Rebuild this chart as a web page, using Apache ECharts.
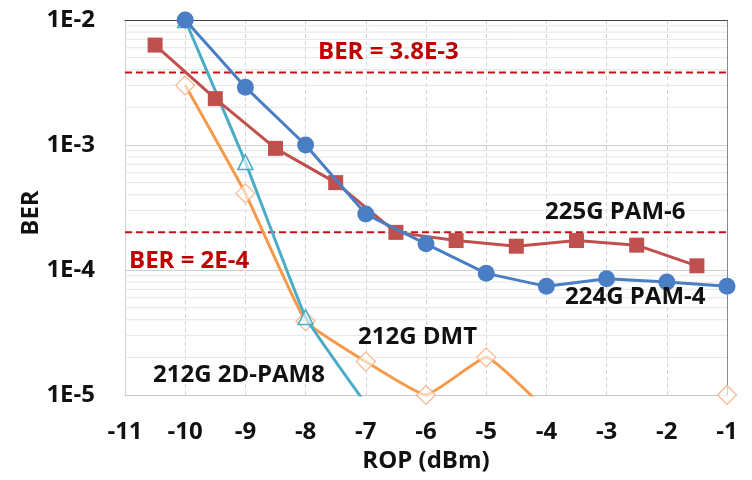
<!DOCTYPE html>
<html>
<head>
<meta charset="utf-8">
<script src="https://cdn.jsdelivr.net/npm/echarts@6/dist/echarts.min.js"></script>
<style>
html,body{margin:0;padding:0;background:#fff;}
#c{width:752px;height:480px;}
</style>
</head>
<body>
<div id="c"></div>
<script>
// ---- data ----
const xTicks = [-11,-10,-9,-8,-7,-6,-5,-4,-3,-2,-1];
const yTickLabels = ['1E-5','1E-4','1E-3','1E-2'];

const xPam4 = [-10,-9,-8,-7,-6,-5,-4,-3,-2,-1];
const berPam4 = [1.0e-2,2.9e-3,1.0e-3,2.8e-4,1.62e-4,9.4e-5,7.4e-5,8.5e-5,8.0e-5,7.4e-5];

const xPam6 = [-10.5,-9.5,-8.5,-7.5,-6.5,-5.5,-4.5,-3.5,-2.5,-1.5];
const berPam6 = [6.3e-3,2.35e-3,9.4e-4,5.0e-4,2.0e-4,1.72e-4,1.55e-4,1.72e-4,1.58e-4,1.08e-4];

const x2dPam8 = [-10,-9,-8,-7];
const ber2dPam8 = [1.0e-2,7.3e-4,4.2e-5,8.5e-6];

const xDmt = [-10,-9,-8,-7,-6,-5,-4,-3,-2,-1];
const berDmt = [3.0e-3,4.1e-4,3.9e-5,1.85e-5,1.0e-5,2.0e-5,7.5e-6,null,null,1.0e-5];

const thresholds = [3.8e-3, 2e-4];
const minorGrid = [];
[1e-5,1e-4,1e-3].forEach(d => { for (let k = 2; k <= 9; k++) minorGrid.push(d * k); });

// ---- chart ----
const FONT = '"Open Sans"';
const FS = 24;
const xMin = xTicks[0], xMax = xTicks[xTicks.length - 1];
const pairs = (xs, ys) => xs.map((x, i) => [x, ys[i]]);
const hLine = v => [[xMin, v], [xMax, v]];
const chart = echarts.init(document.getElementById('c'), null, {renderer: 'canvas'});

const labelStyle = {fontFamily: 'Open Sans', fontWeight: 'bold', fontSize: FS, color: '#111'};

const gridSeries = minorGrid.map(v => ({
  type: 'line', data: hLine(v), silent: true, symbol: 'none', z: 1,
  lineStyle: {color: '#e6e6e6', width: 1}
}));
const thresholdSeries = thresholds.map(v => ({
  type: 'line', data: hLine(v), silent: true, symbol: 'none', z: 3,
  lineStyle: {color: '#c8101a', width: 2, type: [7, 4]}
}));

chart.setOption({
  animation: false,
  backgroundColor: '#fff',
  grid: {left: 125, right: 25, top: 20, bottom: 85},
  xAxis: [{
    type: 'value', min: xMin, max: xMax, interval: 1,
    axisLine: {show: true, onZero: false, lineStyle: {color: '#c8c8c8', width: 1}},
    axisTick: {show: false},
    axisLabel: Object.assign({margin: 25, formatter: v => String(v)}, labelStyle),
    splitLine: {show: true, lineStyle: {color: '#d4d4d4', type: [4, 3], width: 1}},
    name: 'ROP (dBm)', nameLocation: 'middle', nameGap: 52,
    nameTextStyle: labelStyle
  }, {
    type: 'value', min: xMin, max: xMax, position: 'top',
    axisLine: {show: true, onZero: false, lineStyle: {color: '#444', width: 1}},
    axisTick: {show: false}, axisLabel: {show: false}, splitLine: {show: false}
  }],
  yAxis: [{
    type: 'log', logBase: 10, min: 1e-5, max: 1e-2,
    axisLine: {show: true, lineStyle: {color: '#d0d0d0', width: 1}},
    axisTick: {show: false},
    axisLabel: Object.assign({margin: 30, formatter: v => yTickLabels[Math.round(Math.log10(v)) + 5]}, labelStyle),
    splitLine: {show: true, lineStyle: {color: '#cfcfcf', width: 1}}
  }, {
    type: 'log', logBase: 10, min: 1e-5, max: 1e-2, position: 'right',
    axisLine: {show: true, lineStyle: {color: '#8a8a8a', width: 1}},
    axisTick: {show: false}, axisLabel: {show: false}, splitLine: {show: false}
  }],
  series: gridSeries.concat(thresholdSeries).concat([
    {
      name: '212G DMT', type: 'line', data: pairs(xDmt, berDmt), z: 4,
      smooth: 0.12, connectNulls: false,
      lineStyle: {color: '#f59a4a', width: 3},
      symbol: 'diamond', symbolSize: 19,
      itemStyle: {color: 'rgba(255,255,255,0.6)', borderColor: '#f7b68a', borderWidth: 1.2}
    },
    {
      name: '212G 2D-PAM8', type: 'line', data: pairs(x2dPam8, ber2dPam8), z: 5,
      smooth: 0.1,
      lineStyle: {color: '#4bacc6', width: 3},
      symbol: 'triangle', symbolSize: 15,
      itemStyle: {color: 'rgba(255,255,255,0.6)', borderColor: '#4bacc6', borderWidth: 1.5}
    },
    {
      name: '225G PAM-6', type: 'line', data: pairs(xPam6, berPam6), z: 6,
      lineStyle: {color: '#c0504d', width: 3},
      symbol: 'rect', symbolSize: 15,
      itemStyle: {color: '#c0504d'}
    },
    {
      name: '224G PAM-4', type: 'line', data: pairs(xPam4, berPam4), z: 7,
      lineStyle: {color: '#4a7ec4', width: 3},
      symbol: 'circle', symbolSize: 17,
      itemStyle: {color: '#4a7ec4'}
    }
  ]),
  graphic: [
    {type: 'text', x: 31, y: 213, rotation: Math.PI / 2, z: 20,
     style: {text: 'BER', fill: '#111', font: 'bold ' + FS + 'px ' + FONT, align: 'center', verticalAlign: 'middle'}},
    {type: 'text', left: 318, top: 40, z: 20, style: {text: 'BER = 3.8E-3', fill: '#c00000', font: 'bold ' + FS + 'px ' + FONT}},
    {type: 'text', left: 129, top: 249, z: 20, style: {text: 'BER = 2E-4', fill: '#c00000', font: 'bold ' + FS + 'px ' + FONT}},
    {type: 'text', left: 545, top: 200, z: 20, style: {text: '225G PAM-6', fill: '#111', font: 'bold ' + FS + 'px ' + FONT}},
    {type: 'text', left: 565, top: 285, z: 20, style: {text: '224G PAM-4', fill: '#111', font: 'bold ' + FS + 'px ' + FONT}},
    {type: 'text', left: 358, top: 325, z: 20, style: {text: '212G DMT', fill: '#111', font: 'bold ' + FS + 'px ' + FONT}},
    {type: 'text', left: 153, top: 363, z: 20, style: {text: '212G 2D-PAM8', fill: '#111', font: 'bold ' + FS + 'px ' + FONT}}
  ]
});
</script>
</body>
</html>
